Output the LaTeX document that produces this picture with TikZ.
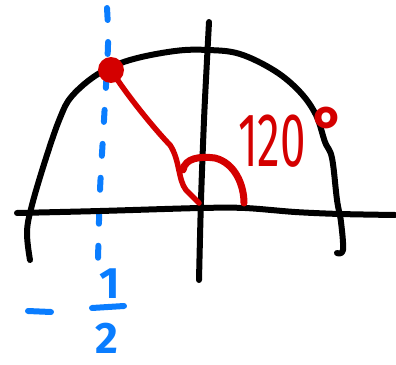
\documentclass[tikz,border=0pt]{standalone}
\usepackage{fontspec}
\setmainfont{Fira Sans}
\definecolor{penred}{RGB}{212,0,0}
\definecolor{penblue}{RGB}{10,125,255}
\tikzset{
  ink/.style={line width=6pt, line cap=round, line join=round},
  axis/.style={ink, black},
  redtext/.style={text=penred, inner sep=0pt, font=\fontsize{76}{76}\selectfont, xscale=0.6},
  bluetext/.style={text=penblue, inner sep=0pt, font=\fontsize{44}{44}\selectfont\bfseries},
}
\begin{document}
\begin{tikzpicture}[x=1pt,y=-1pt]
\useasboundingbox (0,0) rectangle (396,364);
% blue dashed vertical
\draw[ink, penblue, dash pattern=on 12pt off 22pt] plot[smooth] coordinates {(107,8) (108,45) (104,120) (100,190) (98,260)};
% axes
\draw[axis] plot[smooth] coordinates {(17,213) (100,211) (200,208) (245,208) (295,212) (340,214) (395,215)};
\draw[axis] plot[smooth] coordinates {(209,22) (207,60) (204,120) (201,200) (199,280)};
% arc
\draw[axis] plot[smooth, tension=0.6] coordinates {(30,260) (27,232) (32,205) (46,158) (60,118) (72,96) (98,74) (130,60) (175,51) (208,50) (240,54) (275,71) (300,92) (316,115) (325,142) (332,158) (337,200) (341,222) (343,250) (337,253)};
% red line and dot
\coordinate (O) at (199,203);
\node[circle, fill=penred, minimum size=26pt, inner sep=0pt] (P) at (111,70) {};
\draw[ink, penred, line width=5.5pt] (P.center) .. controls (130,100) and (160,135) .. (170,145) .. controls (180,160) and (178,180) .. (186,190) .. controls (192,196) .. (O);
% angle arc
\draw[line width=7pt, line cap=round, penred] (183,170) .. controls (185,158) and (200,156) .. (215,158) .. controls (235,163) and (244,185) .. (244,203);
% labels
\node[redtext] (ang) at (272,141) {120};
\node[text=penred, inner sep=0pt, font=\fontsize{64}{64}\selectfont\bfseries] (deg) at (329,130) {°};
\node[bluetext] (one) at (110,284) {1};
\draw[ink, penblue] (92,308) -- (124,306);
\node[bluetext] (two) at (107,338) {2};
\draw[ink, penblue] (28,311) -- (51,312);
\end{tikzpicture}
\end{document}
